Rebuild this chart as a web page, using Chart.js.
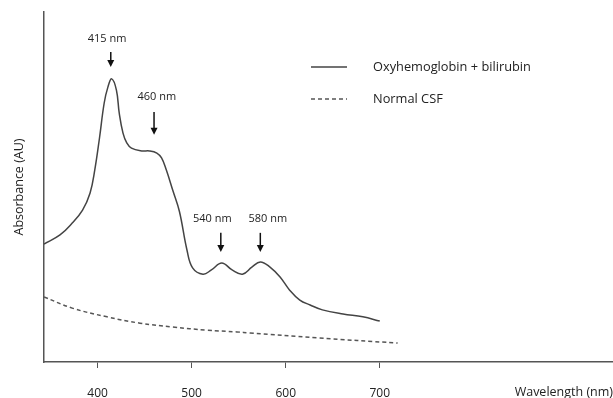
<!DOCTYPE html>
<html>
<head>
<meta charset="utf-8">
<script src="https://cdn.jsdelivr.net/npm/chart.js@4.4.1/dist/chart.umd.min.js"></script>
<style>
  html, body { margin: 0; padding: 0; background: #fff; }
  #wrap { width: 613px; height: 398px; }
</style>
</head>
<body>
<div id="wrap"><canvas id="spectrumChart"></canvas></div>
<script>
// wavelength (nm) / absorbance (AU)
const bloodWavelengths = [343, 360, 373, 384, 392, 397, 402, 407, 411, 415, 420, 423, 427, 431, 436, 447,
    455, 463, 468, 473, 480, 487, 495, 501, 512, 521, 532, 543, 554, 564, 573, 583, 594, 604, 615, 626,
    639, 661, 682, 700];
const bloodAbsorbance = [0.337, 0.363, 0.397, 0.434, 0.483, 0.549, 0.64, 0.74, 0.786, 0.809, 0.777, 0.711,
    0.654, 0.626, 0.611, 0.603, 0.603, 0.597, 0.583, 0.549, 0.49, 0.43, 0.32, 0.269, 0.251, 0.263, 0.283,
    0.263, 0.251, 0.271, 0.286, 0.272, 0.243, 0.206, 0.177, 0.163, 0.149, 0.137, 0.129, 0.117];

const normalWavelengths = [343, 373, 410, 445, 480, 516, 548, 562, 633, 719];
const normalAbsorbance = [0.186, 0.154, 0.129, 0.111, 0.1, 0.091, 0.086, 0.083, 0.069, 0.054];

// x axis ticks
const wavelengthTicks = [400, 500, 600, 700];

// peak annotations: text, where the text sits, where the arrow points
const peakLabels = ["415 nm", "460 nm", "540 nm", "580 nm"];
const peakLabelWavelengths = [410, 463, 522, 581];
const peakLabelLevels = [0.923, 0.757, 0.409, 0.409];
const arrowWavelengths = [414, 460, 531, 573];
const arrowTops = [0.886, 0.714, 0.369, 0.369];
const arrowTips = [0.843, 0.649, 0.314, 0.314];

const seriesLabels = ["Oxyhemoglobin + bilirubin", "Normal CSF"];

const FONT = '"Open Sans", "DejaVu Sans", sans-serif';
const INK = '#222';
const LINE = '#444';

// zip two arrays into {x, y} points
function toPoints (xs, ys) {
    return xs.map((v, i) => { return {x: v, y: ys[i]}; }); }

function drawArrow (ctx, px, top, tip) {
    ctx.beginPath();
    ctx.moveTo(px, top);
    ctx.lineTo(px, tip - 5);
    ctx.stroke();
    ctx.beginPath();
    ctx.moveTo(px - 3.5, tip - 7);
    ctx.lineTo(px + 3.5, tip - 7);
    ctx.lineTo(px, tip);
    ctx.closePath();
    ctx.fill(); }

// arrows, peak labels and the in-plot legend
const overlayPlugin = {
    id: 'overlay',
    afterDatasetsDraw (chart) {
        const {ctx, scales: {x, y}} = chart;
        ctx.save();
        ctx.strokeStyle = '#111';
        ctx.lineWidth = 1.5;
        ctx.textAlign = 'center';
        ctx.textBaseline = 'middle';
        ctx.font = '11px ' + FONT;
        peakLabels.forEach((label, i) => {
            ctx.fillStyle = INK;
            ctx.fillText(label, x.getPixelForValue(peakLabelWavelengths[i]), y.getPixelForValue(peakLabelLevels[i]));
            ctx.fillStyle = '#111';
            drawArrow(ctx, x.getPixelForValue(arrowWavelengths[i]),
                y.getPixelForValue(arrowTops[i]), y.getPixelForValue(arrowTips[i]));
        });

        // legend
        ctx.font = '12.8px ' + FONT;
        ctx.textAlign = 'left';
        ctx.fillStyle = INK;
        chart.data.datasets.forEach((ds, i) => {
            const ly = 67 + i * 32;
            ctx.beginPath();
            ctx.strokeStyle = ds.borderColor;
            ctx.lineWidth = ds.borderWidth;
            ctx.setLineDash(ds.borderDash || []);
            ctx.moveTo(311, ly);
            ctx.lineTo(347, ly);
            ctx.stroke();
            ctx.setLineDash([]);
            ctx.fillText(ds.label, 373, ly);
        });
        ctx.restore();
    }
};

new Chart("spectrumChart", {
    type: 'line',
    data: {
        datasets: [
            { label: seriesLabels[0], data: toPoints(bloodWavelengths, bloodAbsorbance),
              borderColor: LINE, borderWidth: 1.5, pointRadius: 0, tension: 0.4 },
            { label: seriesLabels[1], data: toPoints(normalWavelengths, normalAbsorbance),
              borderColor: '#555', borderWidth: 1.5, borderDash: [4, 3], pointRadius: 0, tension: 0.4 } ]
    },
    options: {
        responsive: true,
        maintainAspectRatio: false,
        animation: false,
        layout: { padding: { top: 12, right: 0, bottom: 0, left: 0 } },
        plugins: { legend: { display: false }, tooltip: { enabled: false } },
        scales: {
            x: {
                type: 'linear', min: 343, max: 948,
                afterBuildTicks: (axis) => { axis.ticks = wavelengthTicks.map((v) => { return {value: v}; }); },
                afterFit: (axis) => { axis.height = 36; },
                border: { display: true, color: '#555', width: 1.5 },
                grid: { drawOnChartArea: false, drawTicks: true, tickLength: 6, color: '#555', lineWidth: 1 },
                ticks: { padding: 18, color: INK, font: { family: FONT, size: 12 } },
                title: { display: true, text: 'Wavelength (nm)', align: 'end', color: INK,
                    font: { family: FONT, size: 12.5 }, padding: { top: 0, bottom: -2 } }
            },
            y: {
                min: 0, max: 1,
                afterFit: (axis) => { axis.width = 44; },
                border: { display: true, color: '#555', width: 1.5 },
                grid: { drawOnChartArea: false, drawTicks: false },
                ticks: { display: false },
                title: { display: true, text: 'Absorbance (AU)', color: INK,
                    font: { family: FONT, size: 12.5 }, padding: { top: 12, bottom: 0 } }
            }
        }
    },
    plugins: [overlayPlugin]
});
</script>
</body>
</html>
